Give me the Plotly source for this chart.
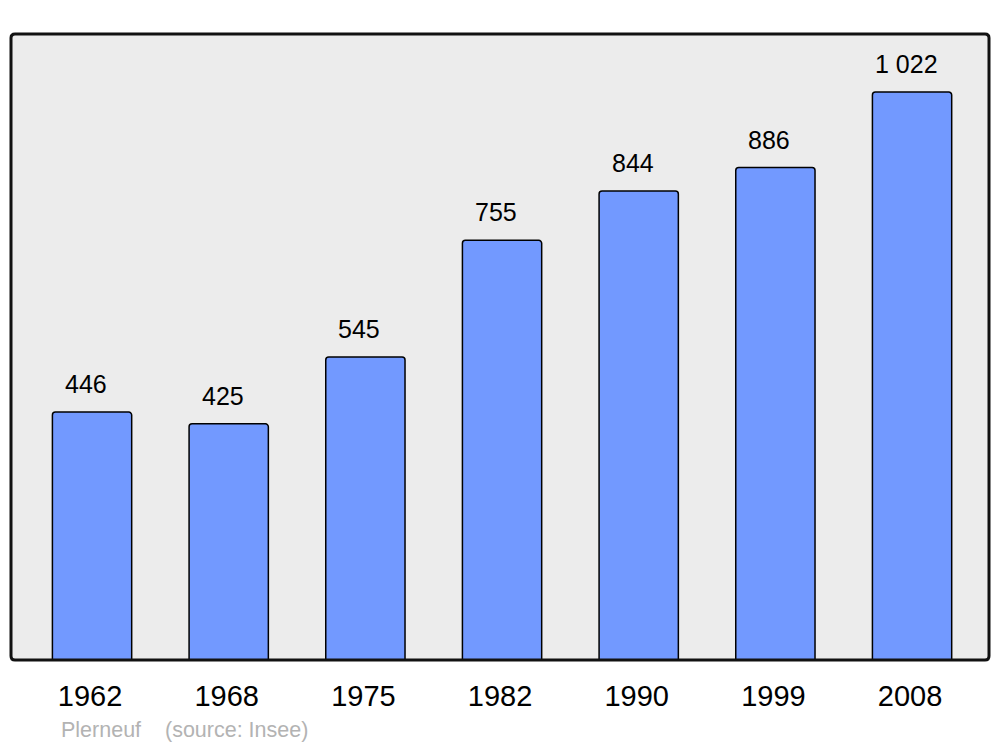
import plotly.graph_objects as go

years = ["1962", "1968", "1975", "1982", "1990", "1999", "2008"]
population = [446, 425, 545, 755, 844, 886, 1022]
value_labels = ["446", "425", "545", "755", "844", "886", "1 022"]
source_text = "Plerneuf    (source: Insee)"

W, H = 1000, 747
L, R, T, B = 11, 11, 34, 87
pw, ph = W - L - R, H - T - B
FONT = "Liberation Sans, Arial, sans-serif"

fig = go.Figure()
fig.add_trace(go.Bar(
    x=list(range(len(years))), y=population,
    width=0.58,
    marker=dict(color="#7299ff", line=dict(color="#000000", width=1.5), cornerradius=3),
    hoverinfo="skip",
))

for i, (v, lab) in enumerate(zip(population, value_labels)):
    fig.add_annotation(x=i, y=v, text=lab, showarrow=False, xref="x", yref="y",
                       yanchor="bottom", yshift=12, xshift=-6,
                       font=dict(family=FONT, size=25, color="#000"))

fig.add_annotation(x=(59 - L) / pw, y=(660 - 730) / ph, xref="paper", yref="paper",
                   text=source_text.replace("    ", "&nbsp;&nbsp;&nbsp;&nbsp;"), showarrow=False,
                   xanchor="left", yanchor="middle",
                   font=dict(family=FONT, size=21.5, color="#b3b3b3"))

# rounded plot border
rx, ry = 4 / pw, 4 / ph
path = (f"M {rx},0 L {1-rx},0 Q 1,0 1,{ry} L 1,{1-ry} Q 1,1 {1-rx},1 "
        f"L {rx},1 Q 0,1 0,{1-ry} L 0,{ry} Q 0,0 {rx},0 Z")
fig.add_shape(type="path", path=path, xref="paper", yref="paper",
              line=dict(color="#111111", width=3), layer="above")

fig.update_layout(
    width=W, height=H,
    margin=dict(l=L, r=R, t=T, b=B),
    paper_bgcolor="#ffffff", plot_bgcolor="#ececec",
    showlegend=False,
    xaxis=dict(range=[-0.593, 6.563], tickmode="array", tickvals=list(range(len(years))),
               ticktext=years, showgrid=False, zeroline=False, showline=False,
               ticks="", ticklabelstandoff=16, ticklabelshift=-2,
               tickfont=dict(family=FONT, size=29, color="#000")),
    yaxis=dict(range=[0, 1126.3], showgrid=False, zeroline=False, showline=False,
               showticklabels=False, ticks=""),
)

fig.write_html("out.html", config={"displayModeBar": False},
               post_script="document.body.style.margin='0';document.body.style.padding='0';")
